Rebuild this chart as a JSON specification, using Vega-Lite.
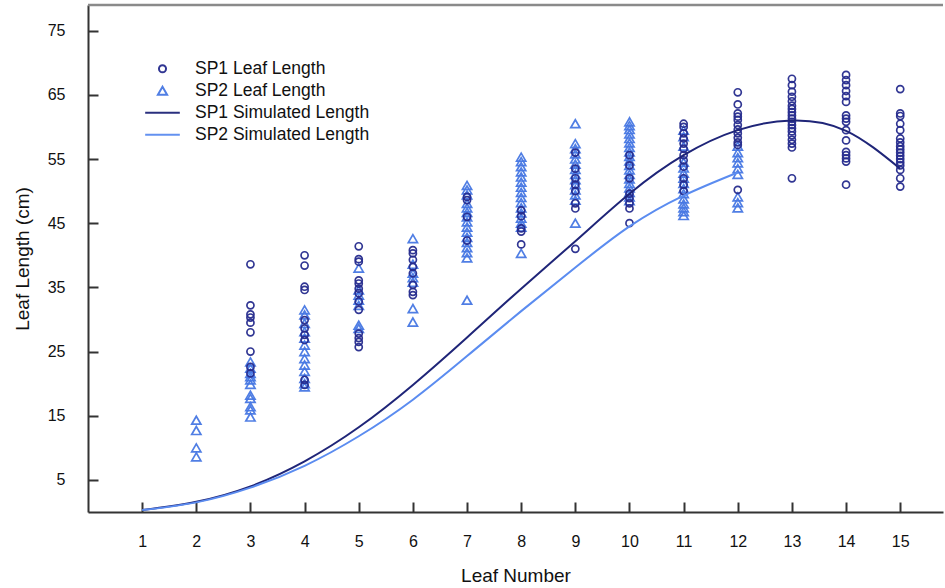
{
  "$schema": "https://vega.github.io/schema/vega-lite/v6.json",
  "width": 855,
  "height": 507,
  "autosize": {"type": "none"},
  "padding": {"left": 88, "top": 5, "right": 2, "bottom": 76},
  "background": "white",
  "config": {
    "view": {"stroke": null},
    "font": "Liberation Sans",
    "axis": {
      "labelFont": "Liberation Sans",
      "titleFont": "Liberation Sans",
      "labelColor": "#111111",
      "titleColor": "#111111",
      "titleFontWeight": "normal",
      "domainColor": "#333333",
      "domainWidth": 2,
      "tickColor": "#333333",
      "tickWidth": 2,
      "grid": false
    },
    "legend": {"labelFont": "Liberation Sans"}
  },
  "datasets": {
    "obs": [
      {"leaf": 2, "len": 14.3, "s": "SP2 Leaf Length"},
      {"leaf": 2, "len": 12.7, "s": "SP2 Leaf Length"},
      {"leaf": 2, "len": 10.0, "s": "SP2 Leaf Length"},
      {"leaf": 2, "len": 8.6, "s": "SP2 Leaf Length"},
      {"leaf": 3, "len": 23.4, "s": "SP2 Leaf Length"},
      {"leaf": 3, "len": 22.4, "s": "SP2 Leaf Length"},
      {"leaf": 3, "len": 21.6, "s": "SP2 Leaf Length"},
      {"leaf": 3, "len": 21.1, "s": "SP2 Leaf Length"},
      {"leaf": 3, "len": 20.6, "s": "SP2 Leaf Length"},
      {"leaf": 3, "len": 19.9, "s": "SP2 Leaf Length"},
      {"leaf": 3, "len": 18.2, "s": "SP2 Leaf Length"},
      {"leaf": 3, "len": 17.7, "s": "SP2 Leaf Length"},
      {"leaf": 3, "len": 16.4, "s": "SP2 Leaf Length"},
      {"leaf": 3, "len": 15.9, "s": "SP2 Leaf Length"},
      {"leaf": 3, "len": 14.8, "s": "SP2 Leaf Length"},
      {"leaf": 4, "len": 31.5, "s": "SP2 Leaf Length"},
      {"leaf": 4, "len": 30.7, "s": "SP2 Leaf Length"},
      {"leaf": 4, "len": 29.4, "s": "SP2 Leaf Length"},
      {"leaf": 4, "len": 28.1, "s": "SP2 Leaf Length"},
      {"leaf": 4, "len": 27.1, "s": "SP2 Leaf Length"},
      {"leaf": 4, "len": 26.0, "s": "SP2 Leaf Length"},
      {"leaf": 4, "len": 25.0, "s": "SP2 Leaf Length"},
      {"leaf": 4, "len": 23.9, "s": "SP2 Leaf Length"},
      {"leaf": 4, "len": 22.9, "s": "SP2 Leaf Length"},
      {"leaf": 4, "len": 21.9, "s": "SP2 Leaf Length"},
      {"leaf": 4, "len": 20.8, "s": "SP2 Leaf Length"},
      {"leaf": 4, "len": 20.0, "s": "SP2 Leaf Length"},
      {"leaf": 4, "len": 19.5, "s": "SP2 Leaf Length"},
      {"leaf": 5, "len": 38.0, "s": "SP2 Leaf Length"},
      {"leaf": 5, "len": 34.6, "s": "SP2 Leaf Length"},
      {"leaf": 5, "len": 33.8, "s": "SP2 Leaf Length"},
      {"leaf": 5, "len": 33.0, "s": "SP2 Leaf Length"},
      {"leaf": 5, "len": 32.2, "s": "SP2 Leaf Length"},
      {"leaf": 5, "len": 29.1, "s": "SP2 Leaf Length"},
      {"leaf": 5, "len": 28.6, "s": "SP2 Leaf Length"},
      {"leaf": 6, "len": 42.6, "s": "SP2 Leaf Length"},
      {"leaf": 6, "len": 38.6, "s": "SP2 Leaf Length"},
      {"leaf": 6, "len": 37.2, "s": "SP2 Leaf Length"},
      {"leaf": 6, "len": 36.5, "s": "SP2 Leaf Length"},
      {"leaf": 6, "len": 35.8, "s": "SP2 Leaf Length"},
      {"leaf": 6, "len": 31.7, "s": "SP2 Leaf Length"},
      {"leaf": 6, "len": 29.6, "s": "SP2 Leaf Length"},
      {"leaf": 7, "len": 50.9, "s": "SP2 Leaf Length"},
      {"leaf": 7, "len": 50.2, "s": "SP2 Leaf Length"},
      {"leaf": 7, "len": 49.4, "s": "SP2 Leaf Length"},
      {"leaf": 7, "len": 48.1, "s": "SP2 Leaf Length"},
      {"leaf": 7, "len": 47.4, "s": "SP2 Leaf Length"},
      {"leaf": 7, "len": 46.7, "s": "SP2 Leaf Length"},
      {"leaf": 7, "len": 46.0, "s": "SP2 Leaf Length"},
      {"leaf": 7, "len": 45.2, "s": "SP2 Leaf Length"},
      {"leaf": 7, "len": 44.4, "s": "SP2 Leaf Length"},
      {"leaf": 7, "len": 43.6, "s": "SP2 Leaf Length"},
      {"leaf": 7, "len": 42.8, "s": "SP2 Leaf Length"},
      {"leaf": 7, "len": 42.0, "s": "SP2 Leaf Length"},
      {"leaf": 7, "len": 41.2, "s": "SP2 Leaf Length"},
      {"leaf": 7, "len": 40.4, "s": "SP2 Leaf Length"},
      {"leaf": 7, "len": 39.6, "s": "SP2 Leaf Length"},
      {"leaf": 7, "len": 33.0, "s": "SP2 Leaf Length"},
      {"leaf": 8, "len": 55.3, "s": "SP2 Leaf Length"},
      {"leaf": 8, "len": 54.6, "s": "SP2 Leaf Length"},
      {"leaf": 8, "len": 53.8, "s": "SP2 Leaf Length"},
      {"leaf": 8, "len": 53.0, "s": "SP2 Leaf Length"},
      {"leaf": 8, "len": 52.2, "s": "SP2 Leaf Length"},
      {"leaf": 8, "len": 51.4, "s": "SP2 Leaf Length"},
      {"leaf": 8, "len": 50.6, "s": "SP2 Leaf Length"},
      {"leaf": 8, "len": 49.8, "s": "SP2 Leaf Length"},
      {"leaf": 8, "len": 49.0, "s": "SP2 Leaf Length"},
      {"leaf": 8, "len": 48.2, "s": "SP2 Leaf Length"},
      {"leaf": 8, "len": 47.4, "s": "SP2 Leaf Length"},
      {"leaf": 8, "len": 46.6, "s": "SP2 Leaf Length"},
      {"leaf": 8, "len": 45.8, "s": "SP2 Leaf Length"},
      {"leaf": 8, "len": 45.0, "s": "SP2 Leaf Length"},
      {"leaf": 8, "len": 44.4, "s": "SP2 Leaf Length"},
      {"leaf": 8, "len": 40.3, "s": "SP2 Leaf Length"},
      {"leaf": 9, "len": 60.5, "s": "SP2 Leaf Length"},
      {"leaf": 9, "len": 57.4, "s": "SP2 Leaf Length"},
      {"leaf": 9, "len": 56.6, "s": "SP2 Leaf Length"},
      {"leaf": 9, "len": 55.8, "s": "SP2 Leaf Length"},
      {"leaf": 9, "len": 55.0, "s": "SP2 Leaf Length"},
      {"leaf": 9, "len": 54.2, "s": "SP2 Leaf Length"},
      {"leaf": 9, "len": 53.4, "s": "SP2 Leaf Length"},
      {"leaf": 9, "len": 52.6, "s": "SP2 Leaf Length"},
      {"leaf": 9, "len": 51.8, "s": "SP2 Leaf Length"},
      {"leaf": 9, "len": 51.0, "s": "SP2 Leaf Length"},
      {"leaf": 9, "len": 50.2, "s": "SP2 Leaf Length"},
      {"leaf": 9, "len": 49.4, "s": "SP2 Leaf Length"},
      {"leaf": 9, "len": 48.6, "s": "SP2 Leaf Length"},
      {"leaf": 9, "len": 45.0, "s": "SP2 Leaf Length"},
      {"leaf": 10, "len": 60.8, "s": "SP2 Leaf Length"},
      {"leaf": 10, "len": 60.2, "s": "SP2 Leaf Length"},
      {"leaf": 10, "len": 59.6, "s": "SP2 Leaf Length"},
      {"leaf": 10, "len": 58.9, "s": "SP2 Leaf Length"},
      {"leaf": 10, "len": 58.2, "s": "SP2 Leaf Length"},
      {"leaf": 10, "len": 57.5, "s": "SP2 Leaf Length"},
      {"leaf": 10, "len": 56.8, "s": "SP2 Leaf Length"},
      {"leaf": 10, "len": 56.1, "s": "SP2 Leaf Length"},
      {"leaf": 10, "len": 55.4, "s": "SP2 Leaf Length"},
      {"leaf": 10, "len": 54.7, "s": "SP2 Leaf Length"},
      {"leaf": 10, "len": 54.0, "s": "SP2 Leaf Length"},
      {"leaf": 10, "len": 53.3, "s": "SP2 Leaf Length"},
      {"leaf": 10, "len": 52.6, "s": "SP2 Leaf Length"},
      {"leaf": 10, "len": 51.9, "s": "SP2 Leaf Length"},
      {"leaf": 10, "len": 51.2, "s": "SP2 Leaf Length"},
      {"leaf": 10, "len": 50.5, "s": "SP2 Leaf Length"},
      {"leaf": 10, "len": 49.8, "s": "SP2 Leaf Length"},
      {"leaf": 10, "len": 49.1, "s": "SP2 Leaf Length"},
      {"leaf": 10, "len": 48.5, "s": "SP2 Leaf Length"},
      {"leaf": 11, "len": 59.5, "s": "SP2 Leaf Length"},
      {"leaf": 11, "len": 58.5, "s": "SP2 Leaf Length"},
      {"leaf": 11, "len": 57.0, "s": "SP2 Leaf Length"},
      {"leaf": 11, "len": 54.5, "s": "SP2 Leaf Length"},
      {"leaf": 11, "len": 53.6, "s": "SP2 Leaf Length"},
      {"leaf": 11, "len": 52.8, "s": "SP2 Leaf Length"},
      {"leaf": 11, "len": 52.0, "s": "SP2 Leaf Length"},
      {"leaf": 11, "len": 51.2, "s": "SP2 Leaf Length"},
      {"leaf": 11, "len": 50.4, "s": "SP2 Leaf Length"},
      {"leaf": 11, "len": 49.6, "s": "SP2 Leaf Length"},
      {"leaf": 11, "len": 48.8, "s": "SP2 Leaf Length"},
      {"leaf": 11, "len": 48.0, "s": "SP2 Leaf Length"},
      {"leaf": 11, "len": 47.4, "s": "SP2 Leaf Length"},
      {"leaf": 11, "len": 46.8, "s": "SP2 Leaf Length"},
      {"leaf": 11, "len": 46.2, "s": "SP2 Leaf Length"},
      {"leaf": 12, "len": 57.0, "s": "SP2 Leaf Length"},
      {"leaf": 12, "len": 56.0, "s": "SP2 Leaf Length"},
      {"leaf": 12, "len": 55.2, "s": "SP2 Leaf Length"},
      {"leaf": 12, "len": 54.4, "s": "SP2 Leaf Length"},
      {"leaf": 12, "len": 53.5, "s": "SP2 Leaf Length"},
      {"leaf": 12, "len": 52.6, "s": "SP2 Leaf Length"},
      {"leaf": 12, "len": 49.1, "s": "SP2 Leaf Length"},
      {"leaf": 12, "len": 48.2, "s": "SP2 Leaf Length"},
      {"leaf": 12, "len": 47.4, "s": "SP2 Leaf Length"},
      {"leaf": 3, "len": 38.6, "s": "SP1 Leaf Length"},
      {"leaf": 3, "len": 32.2, "s": "SP1 Leaf Length"},
      {"leaf": 3, "len": 30.8, "s": "SP1 Leaf Length"},
      {"leaf": 3, "len": 30.3, "s": "SP1 Leaf Length"},
      {"leaf": 3, "len": 29.5, "s": "SP1 Leaf Length"},
      {"leaf": 3, "len": 28.0, "s": "SP1 Leaf Length"},
      {"leaf": 3, "len": 25.0, "s": "SP1 Leaf Length"},
      {"leaf": 3, "len": 22.6, "s": "SP1 Leaf Length"},
      {"leaf": 3, "len": 21.6, "s": "SP1 Leaf Length"},
      {"leaf": 4, "len": 40.0, "s": "SP1 Leaf Length"},
      {"leaf": 4, "len": 38.4, "s": "SP1 Leaf Length"},
      {"leaf": 4, "len": 35.1, "s": "SP1 Leaf Length"},
      {"leaf": 4, "len": 34.6, "s": "SP1 Leaf Length"},
      {"leaf": 4, "len": 29.9, "s": "SP1 Leaf Length"},
      {"leaf": 4, "len": 28.6, "s": "SP1 Leaf Length"},
      {"leaf": 4, "len": 27.6, "s": "SP1 Leaf Length"},
      {"leaf": 4, "len": 26.8, "s": "SP1 Leaf Length"},
      {"leaf": 4, "len": 20.6, "s": "SP1 Leaf Length"},
      {"leaf": 4, "len": 19.8, "s": "SP1 Leaf Length"},
      {"leaf": 5, "len": 41.4, "s": "SP1 Leaf Length"},
      {"leaf": 5, "len": 39.4, "s": "SP1 Leaf Length"},
      {"leaf": 5, "len": 39.0, "s": "SP1 Leaf Length"},
      {"leaf": 5, "len": 36.1, "s": "SP1 Leaf Length"},
      {"leaf": 5, "len": 35.6, "s": "SP1 Leaf Length"},
      {"leaf": 5, "len": 34.8, "s": "SP1 Leaf Length"},
      {"leaf": 5, "len": 34.1, "s": "SP1 Leaf Length"},
      {"leaf": 5, "len": 32.8, "s": "SP1 Leaf Length"},
      {"leaf": 5, "len": 31.5, "s": "SP1 Leaf Length"},
      {"leaf": 5, "len": 27.8, "s": "SP1 Leaf Length"},
      {"leaf": 5, "len": 27.1, "s": "SP1 Leaf Length"},
      {"leaf": 5, "len": 26.5, "s": "SP1 Leaf Length"},
      {"leaf": 5, "len": 25.7, "s": "SP1 Leaf Length"},
      {"leaf": 6, "len": 40.8, "s": "SP1 Leaf Length"},
      {"leaf": 6, "len": 40.3, "s": "SP1 Leaf Length"},
      {"leaf": 6, "len": 39.3, "s": "SP1 Leaf Length"},
      {"leaf": 6, "len": 38.2, "s": "SP1 Leaf Length"},
      {"leaf": 6, "len": 37.2, "s": "SP1 Leaf Length"},
      {"leaf": 6, "len": 35.4, "s": "SP1 Leaf Length"},
      {"leaf": 6, "len": 34.3, "s": "SP1 Leaf Length"},
      {"leaf": 6, "len": 33.8, "s": "SP1 Leaf Length"},
      {"leaf": 7, "len": 49.1, "s": "SP1 Leaf Length"},
      {"leaf": 7, "len": 48.6, "s": "SP1 Leaf Length"},
      {"leaf": 7, "len": 46.0, "s": "SP1 Leaf Length"},
      {"leaf": 7, "len": 42.3, "s": "SP1 Leaf Length"},
      {"leaf": 8, "len": 47.0, "s": "SP1 Leaf Length"},
      {"leaf": 8, "len": 46.1, "s": "SP1 Leaf Length"},
      {"leaf": 8, "len": 44.2, "s": "SP1 Leaf Length"},
      {"leaf": 8, "len": 43.7, "s": "SP1 Leaf Length"},
      {"leaf": 8, "len": 41.7, "s": "SP1 Leaf Length"},
      {"leaf": 9, "len": 56.0, "s": "SP1 Leaf Length"},
      {"leaf": 9, "len": 53.5, "s": "SP1 Leaf Length"},
      {"leaf": 9, "len": 52.0, "s": "SP1 Leaf Length"},
      {"leaf": 9, "len": 51.0, "s": "SP1 Leaf Length"},
      {"leaf": 9, "len": 50.0, "s": "SP1 Leaf Length"},
      {"leaf": 9, "len": 48.1, "s": "SP1 Leaf Length"},
      {"leaf": 9, "len": 47.3, "s": "SP1 Leaf Length"},
      {"leaf": 9, "len": 41.0, "s": "SP1 Leaf Length"},
      {"leaf": 10, "len": 55.6, "s": "SP1 Leaf Length"},
      {"leaf": 10, "len": 54.0, "s": "SP1 Leaf Length"},
      {"leaf": 10, "len": 52.0, "s": "SP1 Leaf Length"},
      {"leaf": 10, "len": 49.6, "s": "SP1 Leaf Length"},
      {"leaf": 10, "len": 48.9, "s": "SP1 Leaf Length"},
      {"leaf": 10, "len": 48.1, "s": "SP1 Leaf Length"},
      {"leaf": 10, "len": 47.3, "s": "SP1 Leaf Length"},
      {"leaf": 10, "len": 45.0, "s": "SP1 Leaf Length"},
      {"leaf": 11, "len": 60.5, "s": "SP1 Leaf Length"},
      {"leaf": 11, "len": 60.0, "s": "SP1 Leaf Length"},
      {"leaf": 11, "len": 59.0, "s": "SP1 Leaf Length"},
      {"leaf": 11, "len": 58.2, "s": "SP1 Leaf Length"},
      {"leaf": 11, "len": 57.4, "s": "SP1 Leaf Length"},
      {"leaf": 11, "len": 56.6, "s": "SP1 Leaf Length"},
      {"leaf": 11, "len": 55.6, "s": "SP1 Leaf Length"},
      {"leaf": 11, "len": 54.8, "s": "SP1 Leaf Length"},
      {"leaf": 11, "len": 53.8, "s": "SP1 Leaf Length"},
      {"leaf": 11, "len": 52.0, "s": "SP1 Leaf Length"},
      {"leaf": 11, "len": 51.0, "s": "SP1 Leaf Length"},
      {"leaf": 11, "len": 50.0, "s": "SP1 Leaf Length"},
      {"leaf": 12, "len": 65.4, "s": "SP1 Leaf Length"},
      {"leaf": 12, "len": 63.5, "s": "SP1 Leaf Length"},
      {"leaf": 12, "len": 62.1, "s": "SP1 Leaf Length"},
      {"leaf": 12, "len": 61.6, "s": "SP1 Leaf Length"},
      {"leaf": 12, "len": 61.1, "s": "SP1 Leaf Length"},
      {"leaf": 12, "len": 60.3, "s": "SP1 Leaf Length"},
      {"leaf": 12, "len": 59.6, "s": "SP1 Leaf Length"},
      {"leaf": 12, "len": 59.0, "s": "SP1 Leaf Length"},
      {"leaf": 12, "len": 58.3, "s": "SP1 Leaf Length"},
      {"leaf": 12, "len": 57.6, "s": "SP1 Leaf Length"},
      {"leaf": 12, "len": 57.2, "s": "SP1 Leaf Length"},
      {"leaf": 12, "len": 50.2, "s": "SP1 Leaf Length"},
      {"leaf": 13, "len": 67.5, "s": "SP1 Leaf Length"},
      {"leaf": 13, "len": 66.5, "s": "SP1 Leaf Length"},
      {"leaf": 13, "len": 65.5, "s": "SP1 Leaf Length"},
      {"leaf": 13, "len": 64.7, "s": "SP1 Leaf Length"},
      {"leaf": 13, "len": 64.0, "s": "SP1 Leaf Length"},
      {"leaf": 13, "len": 63.3, "s": "SP1 Leaf Length"},
      {"leaf": 13, "len": 62.8, "s": "SP1 Leaf Length"},
      {"leaf": 13, "len": 62.3, "s": "SP1 Leaf Length"},
      {"leaf": 13, "len": 61.8, "s": "SP1 Leaf Length"},
      {"leaf": 13, "len": 61.3, "s": "SP1 Leaf Length"},
      {"leaf": 13, "len": 60.8, "s": "SP1 Leaf Length"},
      {"leaf": 13, "len": 60.3, "s": "SP1 Leaf Length"},
      {"leaf": 13, "len": 59.8, "s": "SP1 Leaf Length"},
      {"leaf": 13, "len": 59.3, "s": "SP1 Leaf Length"},
      {"leaf": 13, "len": 58.7, "s": "SP1 Leaf Length"},
      {"leaf": 13, "len": 58.0, "s": "SP1 Leaf Length"},
      {"leaf": 13, "len": 57.4, "s": "SP1 Leaf Length"},
      {"leaf": 13, "len": 56.8, "s": "SP1 Leaf Length"},
      {"leaf": 13, "len": 52.0, "s": "SP1 Leaf Length"},
      {"leaf": 14, "len": 68.1, "s": "SP1 Leaf Length"},
      {"leaf": 14, "len": 67.3, "s": "SP1 Leaf Length"},
      {"leaf": 14, "len": 66.5, "s": "SP1 Leaf Length"},
      {"leaf": 14, "len": 65.6, "s": "SP1 Leaf Length"},
      {"leaf": 14, "len": 64.8, "s": "SP1 Leaf Length"},
      {"leaf": 14, "len": 63.9, "s": "SP1 Leaf Length"},
      {"leaf": 14, "len": 61.8, "s": "SP1 Leaf Length"},
      {"leaf": 14, "len": 61.3, "s": "SP1 Leaf Length"},
      {"leaf": 14, "len": 60.8, "s": "SP1 Leaf Length"},
      {"leaf": 14, "len": 59.5, "s": "SP1 Leaf Length"},
      {"leaf": 14, "len": 57.9, "s": "SP1 Leaf Length"},
      {"leaf": 14, "len": 56.1, "s": "SP1 Leaf Length"},
      {"leaf": 14, "len": 55.6, "s": "SP1 Leaf Length"},
      {"leaf": 14, "len": 55.1, "s": "SP1 Leaf Length"},
      {"leaf": 14, "len": 54.6, "s": "SP1 Leaf Length"},
      {"leaf": 14, "len": 51.0, "s": "SP1 Leaf Length"},
      {"leaf": 15, "len": 65.9, "s": "SP1 Leaf Length"},
      {"leaf": 15, "len": 62.1, "s": "SP1 Leaf Length"},
      {"leaf": 15, "len": 61.7, "s": "SP1 Leaf Length"},
      {"leaf": 15, "len": 60.5, "s": "SP1 Leaf Length"},
      {"leaf": 15, "len": 59.5, "s": "SP1 Leaf Length"},
      {"leaf": 15, "len": 58.2, "s": "SP1 Leaf Length"},
      {"leaf": 15, "len": 57.6, "s": "SP1 Leaf Length"},
      {"leaf": 15, "len": 57.0, "s": "SP1 Leaf Length"},
      {"leaf": 15, "len": 56.5, "s": "SP1 Leaf Length"},
      {"leaf": 15, "len": 56.0, "s": "SP1 Leaf Length"},
      {"leaf": 15, "len": 55.5, "s": "SP1 Leaf Length"},
      {"leaf": 15, "len": 55.0, "s": "SP1 Leaf Length"},
      {"leaf": 15, "len": 54.5, "s": "SP1 Leaf Length"},
      {"leaf": 15, "len": 54.0, "s": "SP1 Leaf Length"},
      {"leaf": 15, "len": 53.3, "s": "SP1 Leaf Length"},
      {"leaf": 15, "len": 52.0, "s": "SP1 Leaf Length"},
      {"leaf": 15, "len": 50.7, "s": "SP1 Leaf Length"}
    ],
    "sim": [
      {"leaf": 1, "len": 0.3, "s": "SP1 Simulated Length"},
      {"leaf": 2, "len": 1.6, "s": "SP1 Simulated Length"},
      {"leaf": 3, "len": 4.0, "s": "SP1 Simulated Length"},
      {"leaf": 4, "len": 7.9, "s": "SP1 Simulated Length"},
      {"leaf": 5, "len": 13.2, "s": "SP1 Simulated Length"},
      {"leaf": 6, "len": 19.8, "s": "SP1 Simulated Length"},
      {"leaf": 7, "len": 27.2, "s": "SP1 Simulated Length"},
      {"leaf": 8, "len": 34.8, "s": "SP1 Simulated Length"},
      {"leaf": 9, "len": 42.2, "s": "SP1 Simulated Length"},
      {"leaf": 10, "len": 49.6, "s": "SP1 Simulated Length"},
      {"leaf": 11, "len": 55.6, "s": "SP1 Simulated Length"},
      {"leaf": 12, "len": 59.5, "s": "SP1 Simulated Length"},
      {"leaf": 13, "len": 61.0, "s": "SP1 Simulated Length"},
      {"leaf": 14, "len": 59.4, "s": "SP1 Simulated Length"},
      {"leaf": 15, "len": 53.5, "s": "SP1 Simulated Length"},
      {"leaf": 1, "len": 0.3, "s": "SP2 Simulated Length"},
      {"leaf": 2, "len": 1.5, "s": "SP2 Simulated Length"},
      {"leaf": 3, "len": 3.8, "s": "SP2 Simulated Length"},
      {"leaf": 4, "len": 7.2, "s": "SP2 Simulated Length"},
      {"leaf": 5, "len": 11.8, "s": "SP2 Simulated Length"},
      {"leaf": 6, "len": 17.5, "s": "SP2 Simulated Length"},
      {"leaf": 7, "len": 24.3, "s": "SP2 Simulated Length"},
      {"leaf": 8, "len": 31.3, "s": "SP2 Simulated Length"},
      {"leaf": 9, "len": 38.1, "s": "SP2 Simulated Length"},
      {"leaf": 10, "len": 44.5, "s": "SP2 Simulated Length"},
      {"leaf": 11, "len": 49.3, "s": "SP2 Simulated Length"},
      {"leaf": 12, "len": 52.9, "s": "SP2 Simulated Length"}
    ]
  },
  "layer": [
    {
      "data": {"name": "obs"},
      "mark": {"type": "point", "filled": false, "strokeWidth": 1.7, "opacity": 0.95},
      "encoding": {
        "x": {
          "field": "leaf",
          "type": "quantitative",
          "title": "Leaf Number",
          "scale": {"domain": [0, 15.79], "nice": false, "zero": false},
          "axis": {
            "values": [1, 2, 3, 4, 5, 6, 7, 8, 9, 10, 11, 12, 13, 14, 15],
            "tickSize": -10,
            "labelFontSize": 16,
            "labelPadding": 31,
            "titleFontSize": 19,
            "titlePadding": 17
          }
        },
        "y": {
          "field": "len",
          "type": "quantitative",
          "title": "Leaf Length (cm)",
          "scale": {"domain": [0, 79], "nice": false},
          "axis": {
            "values": [5, 15, 25, 35, 45, 55, 65, 75],
            "tickSize": -10,
            "labelFontSize": 16,
            "labelPadding": 33,
            "titleFontSize": 19,
            "titlePadding": 15
          }
        },
        "color": {
          "field": "s",
          "type": "nominal",
          "title": null,
          "scale": {
            "domain": ["SP1 Leaf Length", "SP2 Leaf Length", "SP1 Simulated Length", "SP2 Simulated Length"],
            "range": ["#262c8e", "#4778e3", "#1f2578", "#5b8cf0"]
          },
          "legend": {
            "orient": "none",
            "legendX": 56,
            "legendY": 55,
            "padding": 0,
            "labelFontSize": 17.5,
            "labelColor": "#111111",
            "labelOffset": 14,
            "labelLimit": 0,
            "symbolStrokeWidth": 2,
            "clipHeight": 17.5,
            "rowPadding": 3
          }
        },
        "shape": {
          "field": "s",
          "type": "nominal",
          "title": null,
          "scale": {
            "domain": ["SP1 Leaf Length", "SP2 Leaf Length", "SP1 Simulated Length", "SP2 Simulated Length"],
            "range": ["circle", "triangle-up", "stroke", "stroke"]
          }
        },
        "size": {
          "field": "s",
          "type": "nominal",
          "title": null,
          "scale": {
            "type": "ordinal",
            "domain": ["SP1 Leaf Length", "SP2 Leaf Length", "SP1 Simulated Length", "SP2 Simulated Length"],
            "range": [50, 85, 1200, 1200]
          }
        }
      }
    },
    {
      "data": {"name": "sim"},
      "mark": {"type": "line", "strokeWidth": 2, "interpolate": "natural"},
      "encoding": {
        "x": {"field": "leaf", "type": "quantitative", "title": "Leaf Number"},
        "y": {"field": "len", "type": "quantitative", "title": "Leaf Length (cm)"},
        "color": {"field": "s", "type": "nominal", "title": null}
      }
    },
    {
      "data": {"values": [{"edge": "top"}]},
      "mark": {"type": "rule", "color": "#8a8a8a", "strokeWidth": 2.5},
      "encoding": {
        "y": {"datum": 79, "type": "quantitative", "title": "Leaf Length (cm)"}
      }
    }
  ]
}
